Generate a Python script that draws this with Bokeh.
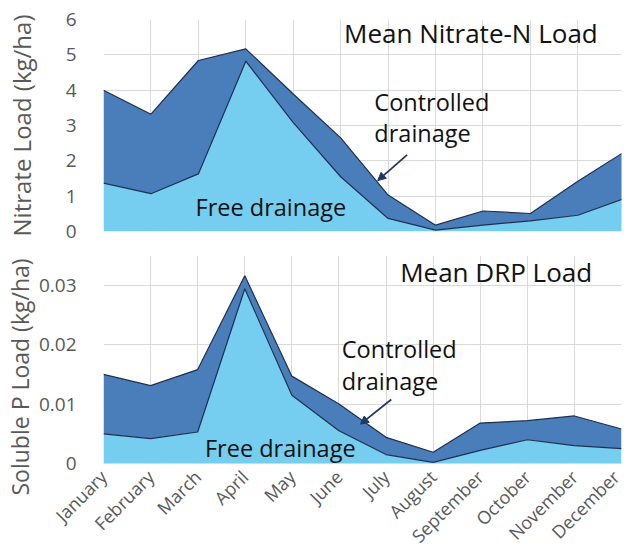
import math
from bokeh.plotting import figure
from bokeh.layouts import column
from bokeh.models import Range1d, FixedTicker, Label, Arrow, NormalHead, ColumnDataSource, Title
from bokeh.embed import file_html
from bokeh.resources import INLINE

months = ["January", "February", "March", "April", "May", "June", "July",
          "August", "September", "October", "November", "December"]

# Nitrate-N load (kg/ha)
nitrate_free = [1.37, 1.07, 1.63, 4.82, 3.08, 1.55, 0.37, 0.04, 0.18, 0.30, 0.46, 0.94]
nitrate_controlled_top = [4.00, 3.32, 4.84, 5.17, 3.89, 2.65, 1.03, 0.18, 0.58, 0.51, 1.42, 2.27]

# Soluble P (DRP) load (kg/ha)
drp_free = [0.0050, 0.0042, 0.0053, 0.0294, 0.0115, 0.0055, 0.0015, 0.0002, 0.0022, 0.0040, 0.0030, 0.0025]
drp_controlled_top = [0.0150, 0.0131, 0.0158, 0.0316, 0.0147, 0.0100, 0.0044, 0.0019, 0.0068, 0.0072, 0.0080, 0.0058]

nitrate_ticks = [0, 1, 2, 3, 4, 5, 6]
drp_ticks = [0, 0.01, 0.02, 0.03]

LIGHT = "#75cdef"
DARK = "#4a7ebb"
EDGE = "#1f2f4f"
GRID = "#d9d9d9"
GRAY = "#595959"
FONT = "Open Sans"

x = list(range(len(months)))


def base_fig(width, height, x_end, y_end, mbl, mbr, mbt, mbb):
    p = figure(width=width, height=height, output_backend="svg", toolbar_location=None,
               x_range=Range1d(0, x_end), y_range=Range1d(0, y_end),
               min_border_left=mbl, min_border_right=mbr, min_border_top=mbt,
               min_border_bottom=mbb)
    p.outline_line_color = None
    p.background_fill_color = "white"
    p.border_fill_color = "white"
    p.xgrid.grid_line_color = GRID
    p.ygrid.grid_line_color = GRID
    p.xaxis.ticker = FixedTicker(ticks=x)
    p.yaxis.axis_line_color = None
    p.yaxis.major_tick_line_color = None
    p.yaxis.minor_tick_line_color = None
    p.yaxis.major_label_text_font = FONT
    p.yaxis.major_label_text_font_size = "19px"
    p.yaxis.major_label_text_color = GRAY
    p.yaxis.major_label_standoff = 21
    return p


def draw(p, free, top):
    src = ColumnDataSource(dict(x=x, free=free, top=top, zero=[0] * len(x)))
    p.varea(x="x", y1="free", y2="top", source=src, fill_color=DARK)
    p.varea(x="x", y1="zero", y2="free", source=src, fill_color=LIGHT)
    p.line(x="x", y="top", source=src, line_color=EDGE, line_width=1.2)
    p.line(x="x", y="free", source=src, line_color=EDGE, line_width=1.2)


def txt(p, x0, y0, s, size):
    p.add_layout(Label(x=x0, y=y0, text=s, text_font=FONT, text_font_size=size,
                       text_color="#111111", text_align="left",
                       text_baseline="alphabetic"))


def arrow(p, xs, ys, xe, ye):
    p.add_layout(Arrow(x_start=xs, y_start=ys, x_end=xe, y_end=ye,
                       line_color="#1f3864", line_width=1.8,
                       end=NormalHead(size=8, fill_color="#1f3864", line_color="#1f3864")))


# ---- top: nitrate ----
p1 = base_fig(624, 245, 10.92, 6, 100, 0, 19, 14)
p1.xaxis.visible = False
p1.yaxis.ticker = FixedTicker(ticks=nitrate_ticks)
p1.yaxis.axis_label = "Nitrate Load (kg/ha)"
p1.yaxis.axis_label_text_font = FONT
p1.yaxis.axis_label_text_font_size = "24px"
p1.yaxis.axis_label_text_font_style = "normal"
p1.yaxis.axis_label_text_color = GRAY
p1.yaxis.axis_label_standoff = 25
draw(p1, nitrate_free, nitrate_controlled_top)
txt(p1, 5.07, 5.615, "Mean Nitrate-N Load", "26px")
txt(p1, 5.71, 3.675, "Controlled", "23.5px")
txt(p1, 5.71, 2.785, "drainage", "23.5px")
txt(p1, 1.94, 0.705, "Free drainage", "23.5px")
arrow(p1, 6.40, 2.17, 5.78, 1.44)

# ---- bottom: DRP ----
p2 = base_fig(624, 313, 11, 0.035, 103, 3, 10, 95)
p2.yaxis.ticker = FixedTicker(ticks=drp_ticks)
p2.yaxis.major_label_overrides = {0: "0"}
p2.xaxis.major_label_overrides = {i: m for i, m in enumerate(months)}
p2.xaxis.major_label_orientation = math.pi / 4
p2.xaxis.axis_line_color = GRID
p2.xaxis.major_tick_line_color = None
p2.xaxis.minor_tick_line_color = None
p2.xaxis.major_label_text_font = FONT
p2.xaxis.major_label_text_font_size = "18px"
p2.xaxis.major_label_text_color = GRAY
p2.xaxis.major_label_standoff = 4
p2.add_layout(Title(text="Soluble P Load (kg/ha)", align="left", offset=-32, standoff=0,
                    text_font=FONT, text_font_size="23px", text_font_style="normal",
                    text_color=GRAY), "left")
draw(p2, drp_free, drp_controlled_top)
txt(p2, 6.30, 0.0323, "Mean DRP Load", "26px")
txt(p2, 5.06, 0.01933, "Controlled", "23.5px")
txt(p2, 5.06, 0.01395, "drainage", "23.5px")
txt(p2, 2.155, 0.00255, "Free drainage", "23.5px")
arrow(p2, 6.11, 0.01078, 5.457, 0.00662)

layout = column(p1, p2, spacing=0)
open("out.html", "w").write(file_html(layout, INLINE))
